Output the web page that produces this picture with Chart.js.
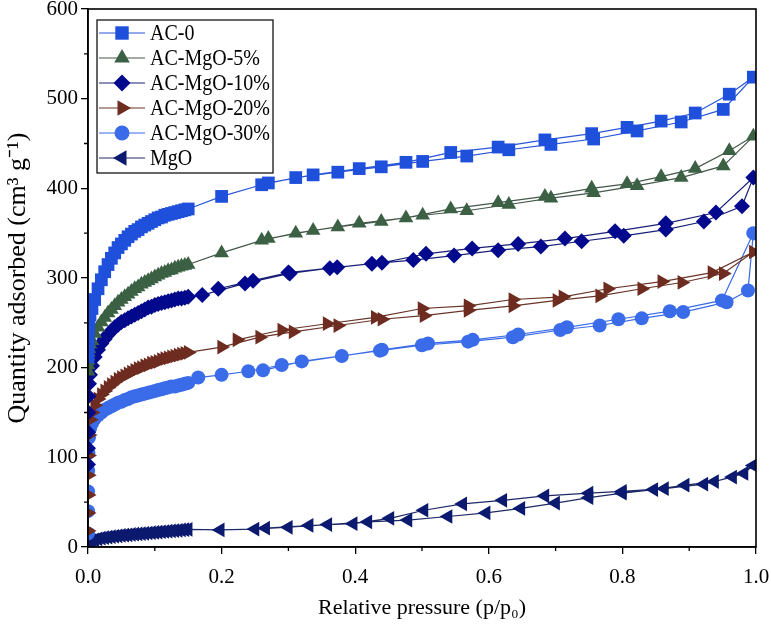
<!DOCTYPE html>
<html>
<head>
<meta charset="utf-8">
<script src="https://cdn.jsdelivr.net/npm/chart.js@4.4.0/dist/chart.umd.min.js"></script>
<style>
  html, body { margin: 0; padding: 0; background: #fff; }
  #wrap { width: 771px; height: 636px; }
</style>
</head>
<body>
<div id="wrap"><canvas id="isoChart" width="771" height="636"></canvas></div>
<script>
// N2 isotherms, adsorption branch then desorption branch
const seriesNames = ['AC-0', 'AC-MgO-5%', 'AC-MgO-10%', 'AC-MgO-20%', 'AC-MgO-30%', 'MgO'];

// dense low-pressure points (shared by all samples)
const lowP = [0.00001, 0.00003, 0.0001, 0.0003, 0.0007, 0.0015, 0.003,
  0.006, 0.01, 0.015, 0.02, 0.025, 0.03, 0.035, 0.04, 0.045, 0.05,
  0.055, 0.06, 0.065, 0.07, 0.075, 0.08, 0.085, 0.09, 0.095, 0.1,
  0.105, 0.11, 0.115, 0.12, 0.125, 0.13, 0.135, 0.14, 0.145, 0.15];

const ac0LowQ = [212, 224, 234, 242, 248, 254, 259, 266, 276, 288, 298, 307, 315, 322, 328, 334, 338,
  342, 346, 349, 352, 354, 357, 359, 361, 363, 365, 367, 368, 370, 371, 372, 373, 374, 375, 376, 377];
const mg5LowQ = [196, 203, 208, 213, 217, 221, 226, 230, 238, 245, 251, 256, 261, 265, 269, 273, 276,
  279, 282, 285, 288, 290, 293, 295, 297, 299, 301, 303, 305, 306, 308, 309, 311, 312, 313, 314, 315];
const mg10LowQ = [92, 110, 128, 150, 168, 182, 192, 202, 212, 220, 227, 232, 237, 241, 245, 248, 251,
  253, 255, 257, 259, 261, 263, 265, 267, 268, 270, 271, 272, 273, 274, 275, 276, 277, 277, 278, 279];
const mg20LowQ = [18, 38, 58, 80, 102, 125, 142, 150, 158, 165, 170, 174, 178, 181, 184, 187, 189,
  191, 193, 195, 197, 199, 200, 202, 203, 205, 206, 207, 209, 210, 211, 212, 213, 214, 215, 216, 217];
const mg30LowQ = [15, 40, 62, 85, 105, 122, 132, 138, 143, 147, 150, 153, 155, 157, 159, 161, 162,
  164, 165, 167, 168, 169, 170, 171, 172, 173, 174, 175, 176, 177, 178, 179, 179, 180, 181, 182, 183];
const mgoLowQ = [1, 1.5, 2, 3, 4, 5, 6, 7, 8, 9, 10, 10.5, 11, 11.5, 12, 12.5, 13,
  13.3, 13.6, 14, 14.3, 14.6, 15, 15.3, 15.6, 16, 16.3, 16.6, 17, 17.3, 17.6, 18, 18.3, 18.6, 19, 19.3, 19.6];

// AC-0
const ac0AdsP = [0.2, 0.26, 0.311, 0.374, 0.439, 0.501, 0.567, 0.63, 0.693, 0.757, 0.822, 0.888, 0.951, 0.996];
const ac0AdsQ = [391, 404, 412, 418, 424, 430, 436, 443, 449, 455, 464, 474, 488, 524];
const ac0DesP = [0.96, 0.909, 0.858, 0.807, 0.754, 0.684, 0.614, 0.543, 0.476, 0.406, 0.337, 0.27];
const ac0DesQ = [505, 484, 475, 468, 461, 454, 446, 440, 429, 422, 415, 406];

// AC-MgO-5%
const mg5AdsP = [0.2, 0.26, 0.311, 0.374, 0.439, 0.501, 0.567, 0.63, 0.693, 0.757, 0.822, 0.888, 0.951, 0.996];
const mg5AdsQ = [328, 342, 350, 357, 363, 370, 375, 382, 389, 395, 403, 412, 425, 458];
const mg5DesP = [0.96, 0.909, 0.858, 0.807, 0.754, 0.684, 0.614, 0.543, 0.476, 0.406, 0.337, 0.27];
const mg5DesQ = [442, 422, 413, 405, 400, 391, 384, 377, 367, 361, 353, 344];

// AC-MgO-10%
const mg10AdsP = [0.171, 0.235, 0.302, 0.362, 0.425, 0.487, 0.548, 0.614, 0.678, 0.739, 0.802, 0.865, 0.922, 0.979, 0.996];
const mg10AdsQ = [281, 294, 305, 311, 316, 320, 325, 331, 335, 341, 347, 354, 363, 380, 412];
const mg10DesP = [0.94, 0.865, 0.789, 0.714, 0.644, 0.575, 0.506, 0.44, 0.373, 0.3, 0.247, 0.195];
const mg10DesQ = [373, 361, 352, 344, 338, 333, 327, 317, 312, 306, 297, 288];

// AC-MgO-20%
const mg20AdsP = [0.2, 0.257, 0.307, 0.374, 0.44, 0.503, 0.569, 0.636, 0.702, 0.766, 0.829, 0.889, 0.951, 0.996];
const mg20AdsQ = [223, 234, 240, 247, 254, 258, 264, 269, 275, 280, 288, 295, 305, 329];
const mg20DesP = [0.934, 0.859, 0.778, 0.711, 0.636, 0.569, 0.5, 0.43, 0.358, 0.29, 0.223];
const mg20DesQ = [306, 296, 288, 279, 276, 269, 266, 256, 249, 242, 231];

// AC-MgO-30%
const mg30AdsP = [0.165, 0.2, 0.24, 0.29, 0.38, 0.44, 0.509, 0.576, 0.644, 0.717, 0.794, 0.871, 0.949, 0.996];
const mg30AdsQ = [189, 192, 196, 203, 213, 220, 227, 231, 237, 245, 254, 263, 275, 350];
const mg30DesP = [0.988, 0.956, 0.891, 0.829, 0.766, 0.707, 0.636, 0.569, 0.5, 0.437, 0.32, 0.262];
const mg30DesQ = [286, 273, 262, 255, 247, 242, 234, 229, 225, 219, 207, 197];

// MgO
const mgoAdsP = [0.198, 0.25, 0.3, 0.359, 0.419, 0.479, 0.539, 0.596, 0.648, 0.7, 0.75, 0.8, 0.847, 0.894, 0.938, 0.982, 0.996];
const mgoAdsQ = [19, 20, 22, 25, 28, 30, 34, 38, 43, 49, 55, 60, 64, 69, 73, 82, 91];
const mgoDesP = [0.965, 0.922, 0.863, 0.8, 0.75, 0.684, 0.621, 0.561, 0.503, 0.452, 0.397, 0.331, 0.266];
const mgoDesQ = [78, 70, 65, 62, 60, 57, 52, 48, 41, 32, 26, 24, 21];

const xMinor = [0.1, 0.3, 0.5, 0.7, 0.9];
const yMinor = [50, 150, 250, 350, 450, 550];

function pts(px, qy) {
  return px.map((p, i) => ({ x: p, y: qy[i] }));
}

function isotherm(lowQ, adsP, adsQ, desP, desQ) {
  return pts(lowP, lowQ).concat(pts(adsP, adsQ), pts(desP, desQ));
}

const styles = [
  { color: '#1f50dc', line: '#2a56d8', shape: 'rect', rot: 0, r: 9 },
  { color: '#3b6043', line: '#44584a', shape: 'triangle', rot: 0, r: 8.5 },
  { color: '#03098c', line: '#1a2078', shape: 'rectRot', rot: 0, r: 8 },
  { color: '#6e2b1f', line: '#6a3428', shape: 'triangle', rot: 90, r: 8.5 },
  { color: '#3a6be8', line: '#3a6be8', shape: 'circle', rot: 0, r: 7 },
  { color: '#0b1a6e', line: '#1e2a66', shape: 'triangle', rot: -90, r: 8.5 }
];

const seriesData = [
  isotherm(ac0LowQ, ac0AdsP, ac0AdsQ, ac0DesP, ac0DesQ),
  isotherm(mg5LowQ, mg5AdsP, mg5AdsQ, mg5DesP, mg5DesQ),
  isotherm(mg10LowQ, mg10AdsP, mg10AdsQ, mg10DesP, mg10DesQ),
  isotherm(mg20LowQ, mg20AdsP, mg20AdsQ, mg20DesP, mg20DesQ),
  isotherm(mg30LowQ, mg30AdsP, mg30AdsQ, mg30DesP, mg30DesQ),
  isotherm(mgoLowQ, mgoAdsP, mgoAdsQ, mgoDesP, mgoDesQ)
];

const datasets = seriesNames.map((name, i) => ({
  label: name,
  data: seriesData[i],
  showLine: true,
  borderColor: styles[i].line,
  borderWidth: 1.2,
  backgroundColor: styles[i].color,
  pointStyle: styles[i].shape,
  rotation: styles[i].rot,
  pointRadius: styles[i].r,
  pointBackgroundColor: styles[i].color,
  pointBorderColor: styles[i].color,
  pointBorderWidth: 0,
  tension: 0
}));

// frame on all four sides + short minor ticks
const framePlugin = {
  id: 'frame',
  afterDraw(chart) {
    const { ctx, chartArea: a, scales } = chart;
    ctx.save();
    ctx.strokeStyle = '#000';
    ctx.lineWidth = 1.6;
    ctx.strokeRect(a.left, a.top, a.right - a.left, a.bottom - a.top);
    ctx.lineWidth = 1.3;
    ctx.beginPath();
    xMinor.forEach(v => {
      const px = scales.x.getPixelForValue(v);
      ctx.moveTo(px, a.bottom);
      ctx.lineTo(px, a.bottom + 4);
    });
    yMinor.forEach(v => {
      const py = scales.y.getPixelForValue(v);
      ctx.moveTo(a.left, py);
      ctx.lineTo(a.left - 4, py);
    });
    ctx.stroke();
    ctx.restore();
  }
};

// boxed legend with line + marker, like the original plot
const boxLegend = {
  id: 'boxLegend',
  afterDraw(chart) {
    const ctx = chart.ctx;
    const left = 97, top = 20, w = 176, h = 153, row = 25;
    ctx.save();
    ctx.fillStyle = '#fff';
    ctx.fillRect(left, top, w, h);
    ctx.strokeStyle = '#000';
    ctx.lineWidth = 1.2;
    ctx.strokeRect(left, top, w, h);
    ctx.font = "20px 'Liberation Serif', 'Times New Roman', serif";
    ctx.textBaseline = 'middle';
    seriesNames.forEach((name, i) => {
      const y = top + 13 + i * row;
      const st = styles[i];
      ctx.strokeStyle = st.line;
      ctx.lineWidth = 1.2;
      ctx.beginPath();
      ctx.moveTo(left + 2, y);
      ctx.lineTo(left + 48, y);
      ctx.stroke();
      ctx.fillStyle = st.color;
      Chart.helpers.drawPoint(ctx, { pointStyle: st.shape, rotation: st.rot, radius: st.r + 0.5, borderWidth: 0 }, left + 25, y);
      ctx.fillStyle = '#000';
      ctx.save();
      ctx.translate(left + 53, y + 1);
      ctx.scale(1, 1.15);
      ctx.fillText(name, 0, 0);
      ctx.restore();
    });
    ctx.restore();
  }
};

Chart.defaults.font.family = "'Liberation Serif', 'Times New Roman', serif";
Chart.defaults.color = '#000';

new Chart(document.getElementById('isoChart'), {
  type: 'scatter',
  data: { datasets },
  options: {
    responsive: false,
    animation: false,
    devicePixelRatio: 1,
    layout: { padding: { left: 0, top: 8, right: 15, bottom: 0 } },
    plugins: {
      legend: { display: false },
      tooltip: { enabled: false }
    },
    scales: {
      x: {
        type: 'linear',
        min: 0,
        max: 1,
        afterFit(scale) {
          scale.height = 89;
          scale.paddingLeft = 0;
          scale.paddingRight = 0;
        },
        ticks: {
          stepSize: 0.2,
          padding: 11,
          font: { size: 21 },
          color: '#000',
          callback: v => Number(v).toFixed(1)
        },
        grid: { drawOnChartArea: false, drawTicks: true, tickLength: 7, color: '#000', lineWidth: 1.3 },
        border: { display: true, color: '#000', width: 1.6 },
        title: {
          display: true,
          text: 'Relative pressure (p/p\u2080)',
          font: { size: 22 },
          color: '#000',
          padding: { top: 0, bottom: 15 }
        }
      },
      y: {
        type: 'linear',
        min: 0,
        max: 600,
        afterFit(scale) {
          scale.width = 88;
          scale.paddingTop = 0;
          scale.paddingBottom = 0;
        },
        ticks: {
          stepSize: 100,
          padding: 3,
          font: { size: 21 },
          color: '#000'
        },
        grid: { drawOnChartArea: false, drawTicks: true, tickLength: 7, color: '#000', lineWidth: 1.3 },
        border: { display: true, color: '#000', width: 1.6 },
        title: {
          display: true,
          text: 'Quantity adsorbed (cm\u00b3 g\u207b\u00b9)',
          font: { size: 26 },
          color: '#000',
          padding: { top: 3, bottom: 0 }
        }
      }
    }
  },
  plugins: [framePlugin, boxLegend]
});
</script>
</body>
</html>
